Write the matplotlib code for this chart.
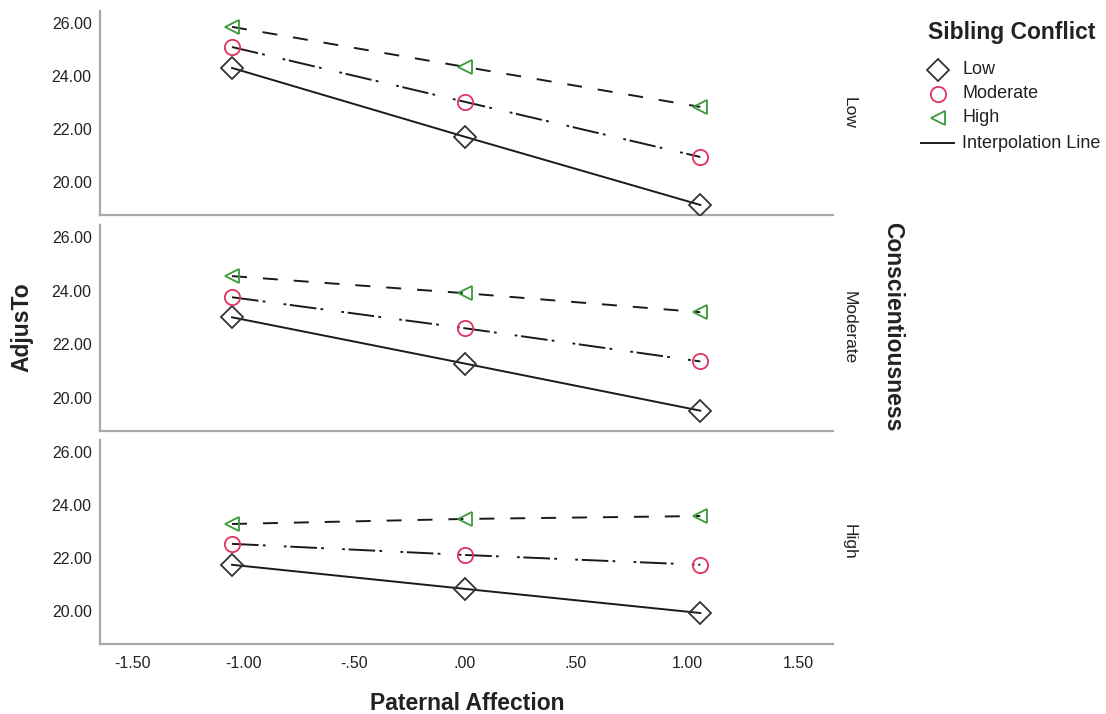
import numpy as np
import matplotlib
matplotlib.use("Agg")
import matplotlib.pyplot as plt
from matplotlib.lines import Line2D

plt.rcParams['font.family'] = ['Liberation Sans', 'DejaVu Sans']

# data
x_vals = [-1.05, 0.0, 1.06]
panel_names = ['Low', 'Moderate', 'High']          # Conscientiousness
sib_names = ['Low', 'Moderate', 'High']            # Sibling Conflict

consc_low = {'Low': [24.30, 21.70, 19.13],
             'Moderate': [25.09, 23.02, 20.94],
             'High': [25.85, 24.34, 22.83]}
consc_mod = {'Low': [23.00, 21.27, 19.51],
             'Moderate': [23.75, 22.59, 21.35],
             'High': [24.54, 23.90, 23.19]}
consc_high = {'Low': [21.74, 20.83, 19.92],
              'Moderate': [22.53, 22.11, 21.74],
              'High': [23.28, 23.47, 23.58]}
panels = [consc_low, consc_mod, consc_high]

x_ticks = [-1.5, -1.0, -0.5, 0.0, 0.5, 1.0, 1.5]
x_tick_labels = ['-1.50', '-1.00', '-.50', '.00', '.50', '1.00', '1.50']
y_ticks = [20, 22, 24, 26]
y_tick_labels = ['20.00', '22.00', '24.00', '26.00']

# styles per sibling conflict level
markers = {'Low': 'D', 'Moderate': 'o', 'High': '<'}
mcolors = {'Low': '#333333', 'Moderate': '#e0345f', 'High': '#3c9a3c'}
msizes = {'Low': 11, 'Moderate': 11, 'High': 10.5}
lstyles = {'Low': '-',
           'Moderate': (0, (13.7, 2.2, 1.4, 9.4, 1.4, 1.9)),
           'High': (0, (7.7, 8.2))}

W, H = 1106, 714
fig = plt.figure(figsize=(W / 100, H / 100), dpi=100)

left, right = 100, 833
tops = [11, 225, 440]
bottoms = [215, 431, 644]
txt = '#222222'
spine_col = '#a8a8a8'
line_col = '#1a1a1a'

for i in range(3):
    ax = fig.add_axes([left / W, 1 - bottoms[i] / H, (right - left) / W,
                       (bottoms[i] - tops[i]) / H])
    data = panels[i]
    for s in sib_names:
        ax.plot(x_vals, data[s], color=line_col, lw=1.4, linestyle=lstyles[s],
                zorder=2)
        ax.plot(x_vals, data[s], linestyle='none', marker=markers[s],
                ms=msizes[s], mfc='none', mec=mcolors[s], mew=1.3, zorder=3)
    ax.set_xlim(-1.645, 1.658)
    ax.set_ylim(18.75, 26.45)
    ax.set_yticks(y_ticks)
    ax.set_yticklabels(y_tick_labels)
    ax.set_xticks(x_ticks)
    if i == 2:
        ax.set_xticklabels(x_tick_labels)
    else:
        ax.set_xticklabels([])
    ax.tick_params(length=0, labelsize=11.5, colors=txt, pad=6)
    ax.tick_params(axis='x', pad=9)
    for sp in ['top', 'right']:
        ax.spines[sp].set_visible(False)
    for sp in ['left', 'bottom']:
        ax.spines[sp].set_color(spine_col)
        ax.spines[sp].set_linewidth(1.6)
    ymid = 1 - (tops[i] + bottoms[i]) / 2 / H
    fig.text(849 / W, ymid, panel_names[i], rotation=-90, ha='center',
             va='center', fontsize=12.5, color=txt)

fig.text(893 / W, 1 - 327 / H, 'Conscientiousness', rotation=-90,
         ha='center', va='center', fontsize=16.5, fontweight='bold', color=txt)
fig.text(22 / W, 1 - 327 / H, 'AdjusTo', rotation=90, ha='center',
         va='center', fontsize=16.5, fontweight='bold', color=txt)
fig.text(467 / W, 1 - 703 / H, 'Paternal Affection', ha='center',
         va='center', fontsize=16.5, fontweight='bold', color=txt)

# legend, laid out by hand
fig.text(1012 / W, 1 - 33 / H, 'Sibling Conflict', ha='center', va='center',
         fontsize=16.5, fontweight='bold', color=txt)
row_y = [70, 94, 118, 143]
for s, yy in zip(sib_names, row_y):
    fig.add_artist(Line2D([938 / W], [1 - yy / H], transform=fig.transFigure,
                          linestyle='none', marker=markers[s], ms=msizes[s],
                          mfc='none', mec=mcolors[s], mew=1.3))
    fig.text(962 / W, 1 - yy / H, s, ha='left', va='center', fontsize=13,
             color=txt)
fig.add_artist(Line2D([921 / W, 954 / W], [1 - row_y[3] / H] * 2,
                      transform=fig.transFigure, color=line_col, lw=1.4))
fig.text(962 / W, 1 - row_y[3] / H, 'Interpolation Line', ha='left',
         va='center', fontsize=13, color=txt)

fig.savefig('out.png', dpi=100)
